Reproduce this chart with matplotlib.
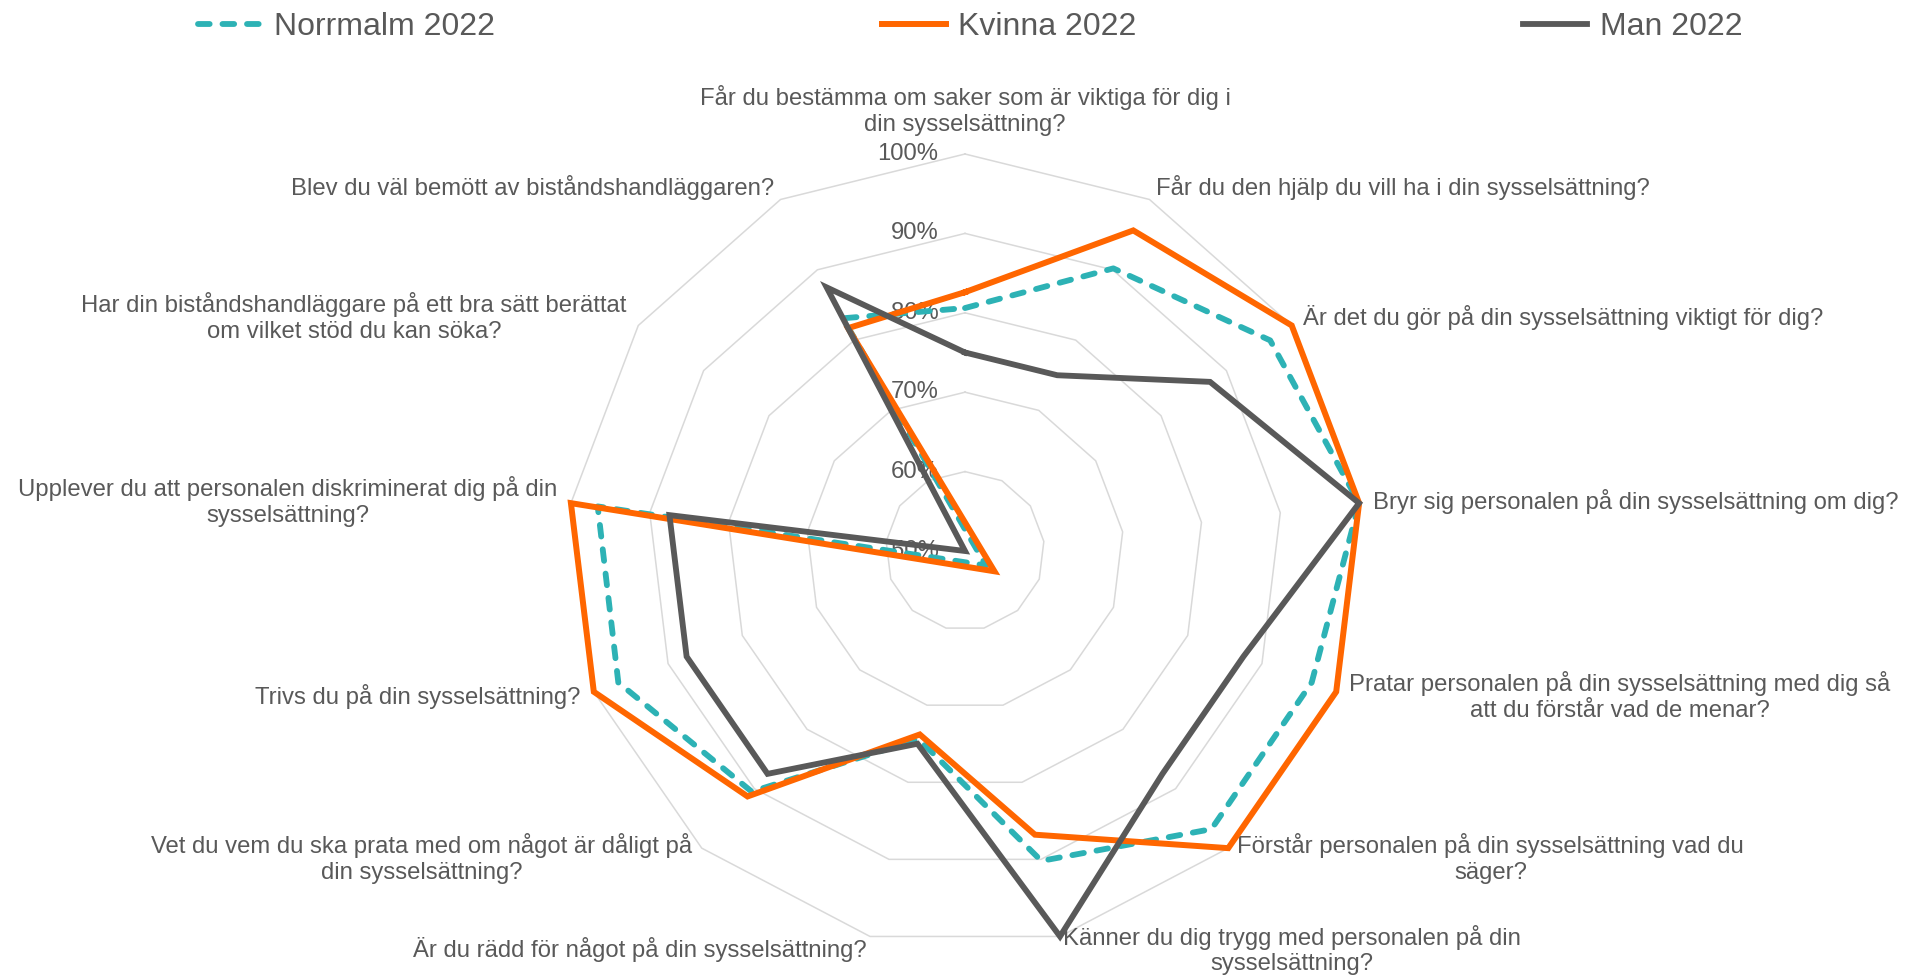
import numpy as np
import matplotlib.pyplot as plt

plt.rcParams['font.family'] = ['Liberation Sans', 'DejaVu Sans']

questions = [
    "Får du bestämma om saker som är viktiga för dig i\ndin sysselsättning?",
    "Får du den hjälp du vill ha i din sysselsättning?",
    "Är det du gör på din sysselsättning viktigt för dig?",
    "Bryr sig personalen på din sysselsättning om dig?",
    "Pratar personalen på din sysselsättning med dig så\natt du förstår vad de menar?",
    "Förstår personalen på din sysselsättning vad du\nsäger?",
    "Känner du dig trygg med personalen på din\nsysselsättning?",
    "Är du rädd för något på din sysselsättning?",
    "Vet du vem du ska prata med om något är dåligt på\ndin sysselsättning?",
    "Trivs du på din sysselsättning?",
    "Upplever du att personalen diskriminerat dig på din\nsysselsättning?",
    "Har din biståndshandläggare på ett bra sätt berättat\nom vilket stöd du kan söka?",
    "Blev du väl bemött av biståndshandläggaren?",
]

# share of positive answers, percent
norrmalm = [80.6, 90.2, 96.7, 100, 96.7, 96.8, 90.2, 74.4, 90.5, 96.7, 96.6, 46.8, 83.1]
kvinna = [82.6, 95.6, 100, 100, 100, 100, 86.8, 73.8, 91.3, 100, 100, 45.5, 81.7]
man = [75.0, 75.0, 87.5, 100, 87.5, 87.5, 100, 75.0, 87.5, 87.5, 87.5, 50.0, 87.5]

series_names = ["Norrmalm 2022", "Kvinna 2022", "Man 2022"]
levels = [50, 60, 70, 80, 90, 100]
r_min, r_max = 50, 100

text_col = "#595959"
grid_col = "#D9D9D9"

n = len(questions)
theta = np.arange(n) * 2 * np.pi / n


def radar_coords(values):
    # like excel: a value under the axis minimum is drawn through the
    # centre, on the opposite side
    v = np.asarray(values, dtype=float)
    th = np.where(v < r_min, theta + np.pi, theta)
    r = np.where(v < r_min, 2 * r_min - v, v)
    return np.append(th, th[0]), np.append(r, r[0])


fig = plt.figure(figsize=(19.06, 9.76), dpi=100)
ax = fig.add_axes([0.298, 0.0287, 0.4166, 0.8135], projection="polar")
ax.set_theta_zero_location("N")
ax.set_theta_direction(-1)
ax.set_ylim(r_min, r_max)
ax.grid(False)
ax.spines["polar"].set_visible(False)
ax.set_xticks([])
ax.set_yticks([])

# polygon gridlines
for lvl in levels[1:]:
    ax.plot(np.append(theta, theta[0]), [lvl] * (n + 1), color=grid_col,
            lw=1.1, zorder=1, clip_on=False)

for lvl in levels:
    ax.annotate(f"{lvl}%", xy=(0, lvl), xytext=(-19, 0), textcoords="offset points",
                ha="right", va="center", fontsize=17.2, color=text_col, zorder=3)

for i, q in enumerate(questions):
    s, c = np.sin(theta[i]), np.cos(theta[i])
    ha = "left" if s > 0.1 else "right" if s < -0.1 else "center"
    va = "bottom" if c > 0.95 else "center"
    pad = 13 if c > 0.95 else 10
    ax.annotate(q, xy=(theta[i], r_max), xytext=(pad * s, pad * c),
                textcoords="offset points", ha=ha, va=va, multialignment="center",
                fontsize=17.2, color=text_col, linespacing=1.22)

l1, = ax.plot(*radar_coords(norrmalm), color="#2DB2B5", lw=4.2, dashes=(2.0, 2.2),
              dash_capstyle="round", zorder=4, clip_on=False)
l2, = ax.plot(*radar_coords(kvinna), color="#FF6600", lw=4.3,
              solid_joinstyle="miter", zorder=5, clip_on=False)
l3, = ax.plot(*radar_coords(man), color="#595959", lw=4.2,
              solid_joinstyle="miter", zorder=6, clip_on=False)

fig.legend([l1, l2, l3], series_names, loc="center", bbox_to_anchor=(0.509, 0.972),
           ncol=3, frameon=False, fontsize=23, handlelength=2.0, handletextpad=0.4,
           columnspacing=12.1, labelcolor=text_col)

fig.savefig("out.png", dpi=100)
